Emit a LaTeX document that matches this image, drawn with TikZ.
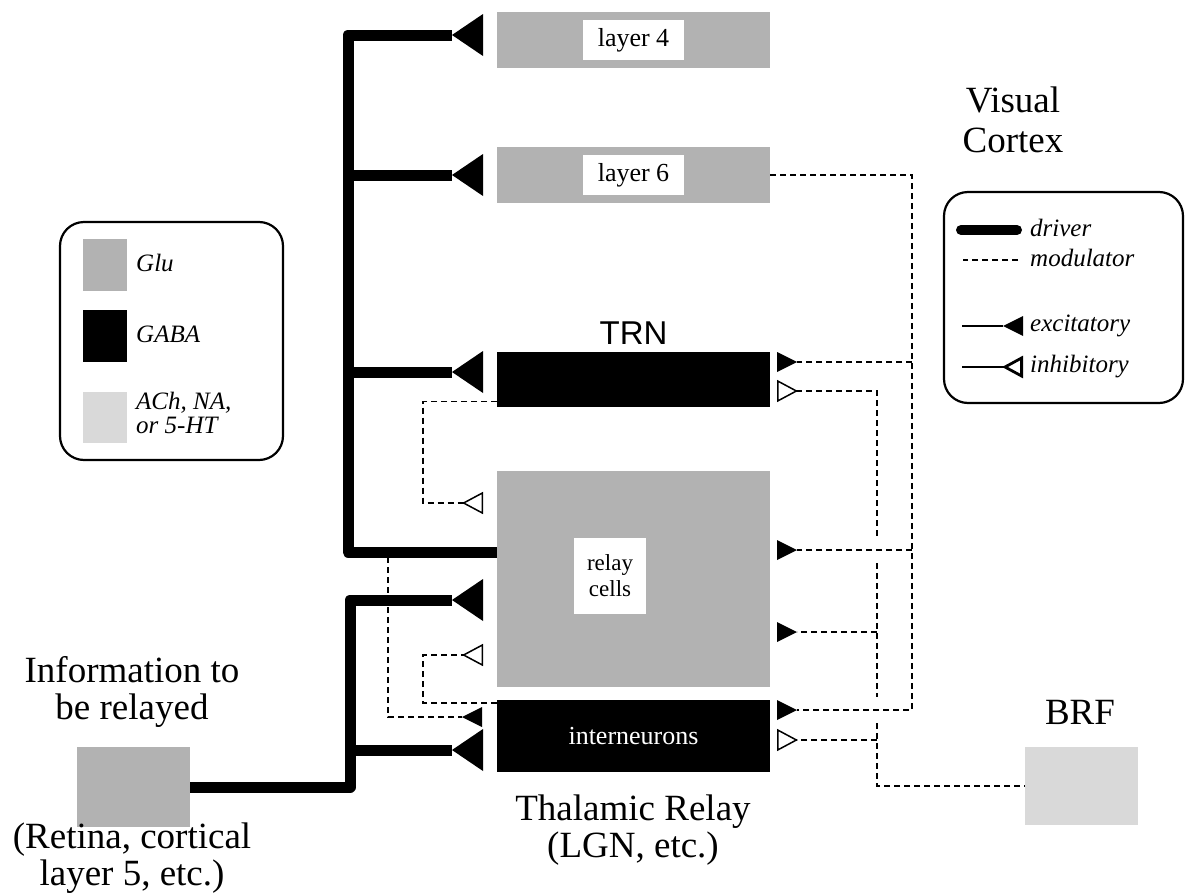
\documentclass[tikz,border=0pt]{standalone}
\usepackage{fontspec}
\setmainfont{Liberation Serif}
\setsansfont{Liberation Sans}
\usetikzlibrary{arrows.meta}

\definecolor{gluc}{gray}{0.70}
\definecolor{achc}{gray}{0.85}

\begin{document}
\begin{tikzpicture}[x=1pt, y=-1pt,
  cell/.style={minimum width=273pt, inner sep=0pt, outer sep=0pt},
  glu/.style={fill=gluc, inner sep=0pt},
  gaba/.style={fill=black, inner sep=0pt},
  lab/.style={fill=white, inner sep=0pt, font=\fontsize{26}{28}\selectfont},
  big/.style={font=\fontsize{37}{37}\selectfont, align=center},
  key/.style={font=\itshape\fontsize{25}{24}\selectfont, anchor=west, align=left, inner sep=0pt},
  drv/.style={line width=11pt, line join=round},
  mod/.style={line width=1.5pt, dash pattern=on 6pt off 4pt},
  legbox/.style={draw, line width=2.2pt, rounded corners=24pt},
  Drv/.tip={Triangle[reversed, length=31pt, width=42pt, line width=0pt]},
  Exc/.tip={Triangle[reversed, length=20pt, width=20pt, line width=0pt]},
  Inh/.tip={Triangle[reversed, open, length=21pt, width=22pt]}]
\useasboundingbox (0,0) rectangle (1186,894);

% cortex
\node[cell, glu, minimum height=56pt] (l4) at (633.5,40) {};
\node[lab, minimum width=101pt, minimum height=40pt] (l4lab) at (l4) {layer 4};
\node[cell, glu, minimum height=56pt] (l6) at (633.5,175) {};
\node[lab, minimum width=101pt, minimum height=40pt] (l6lab) at (l6) {layer 6};
\node[big, font=\fontsize{37}{40}\selectfont] (vc) at (1013,120) {Visual\\Cortex};

% thalamus
\node[cell, gaba, minimum height=55pt] (trn) at (633.5,379.5) {};
\node[font=\sffamily\fontsize{33}{33}\selectfont] (trnlab) at (633.5,333) {TRN};
\node[cell, glu, minimum height=216pt] (relay) at (633.5,579) {};
\node[lab, minimum width=72pt, minimum height=76pt, align=center, font=\fontsize{23}{26}\selectfont] (relaylab) at (610,576) {relay\\cells};
\node[cell, gaba, minimum height=72pt, text=white, font=\fontsize{26}{26}\selectfont] (intn) at (633.5,736) {interneurons};
\node[big] (thal) at (633,830) {Thalamic Relay\\(LGN, etc.)};

% inputs
\node[glu, minimum width=113pt, minimum height=80pt] (info) at (133.5,787) {};
\node[big] (infotop) at (132,692) {Information to\\be relayed};
\node[big] (infobot) at (132,858) {(Retina, cortical\\layer 5, etc.)};
\node[fill=achc, inner sep=0pt, minimum width=113pt, minimum height=78pt] (brf) at (1081.5,786) {};
\node[big] (brflab) at (1080,712) {BRF};

% legends
\node[legbox, minimum width=223pt, minimum height=238pt] (keyl) at (171.5,341) {};
\node[glu, minimum width=44pt, minimum height=52pt] (kglu) at (105,265) {};
\node[gaba, minimum width=44pt, minimum height=52pt] (kgaba) at (105,336) {};
\node[fill=achc, inner sep=0pt, minimum width=44pt, minimum height=51pt] (kach) at (105,417) {};
\node[key] (tglu) at (136,263) {Glu};
\node[key] (tgaba) at (136,334) {GABA};
\node[key] (tach) at (136,413) {ACh, NA,\\or 5-HT};

\node[legbox, minimum width=239pt, minimum height=211pt] (keyr) at (1063.5,297.5) {};
\node[key] (tdrv) at (1030,228) {driver};
\node[key] (tmod) at (1030,258) {modulator};
\node[key] (texc) at (1030,326) {excitatory};
\node[key] (tinh) at (1030,367) {inhibitory};
\draw[drv, line width=10pt, line cap=round] ([xshift=-13pt, yshift=-2pt]tdrv.west) -- ++(-56,0);
\draw[mod] ([xshift=-12pt, yshift=-2pt]tmod.west) -- ++(-55,0);
\draw[line width=2.8pt, -Exc] ([xshift=-68pt]texc.west) -- ([xshift=-7pt]texc.west);
\draw[line width=2.8pt, -Inh] ([xshift=-68pt]tinh.west) -- ([xshift=-7pt]tinh.west);

% synapse points
\coordinate (l4D) at (483,35);
\coordinate (l6D) at (483,175);
\coordinate (trnD) at (483,372);
\coordinate (relD) at (483,600);
\coordinate (intD) at (483,750);
\coordinate (relO) at (497,552);
\coordinate (relB) at (388,557);
\coordinate (relI1) at (483,503);
\coordinate (relI2) at (483,655);
\coordinate (intEl) at (482,717);
\coordinate (trnE) at (777,362);
\coordinate (trnI) at (777,391);
\coordinate (relE1) at (777,550);
\coordinate (relE2) at (777,632);
\coordinate (intE) at (777,710);
\coordinate (intI) at (777,740);

% drivers
\draw[drv, -Drv] (relO) -| (348,35) -- (l4D);
\draw[drv, -Drv] (348,175) -- (l6D);
\draw[drv, -Drv] (348,372) -- (trnD);
\draw[drv, -Drv] (info.east) -| (350,600) -- (relD);
\draw[drv, -Drv] (350,750) -- (intD);

% modulators, left
\draw[mod, -Inh] ([yshift=-22pt]trn.west) -| (423,503) -- (relI1);
\draw[mod, -Inh] ([yshift=33pt]intn.west) -| (423,655) -- (relI2);
\draw[mod, -Exc] (relB) -- (388,717) -- (intEl);

% modulators, right
\draw[mod, -Exc] (l6.east) -| (912,710) -- (intE);
\draw[mod, -Exc] (912,362) -- (trnE);
\draw[mod, -Exc] (912,550) -- (relE1);
\draw[mod, Inh-] (trnI) -| (877,538);
\draw[mod] (877,563) -- (877,697);
\draw[mod] (877,723) |- (brf.west);
\draw[mod, -Exc] (877,632) -- (relE2);
\draw[mod, -Inh] (877,740) -- (intI);
\end{tikzpicture}
\end{document}
